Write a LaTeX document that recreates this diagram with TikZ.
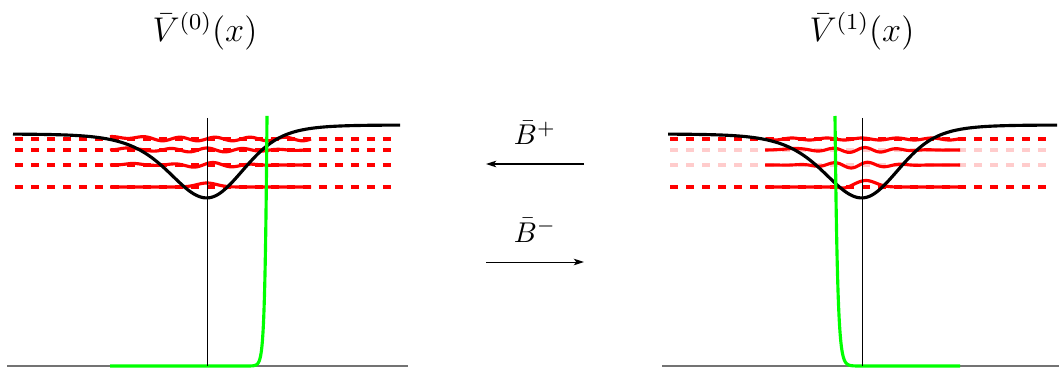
\documentclass[tikz,border=0pt]{standalone}
\usetikzlibrary{arrows.meta}
\begin{document}
\begin{tikzpicture}[x=0.35pt,y=-0.35pt,
  pot/.style={line width=1.1pt,black},
  lev/.style={line width=1.15pt,red,dash pattern=on 2.8pt off 2.8pt},
  levpale/.style={line width=1.15pt,red!20,dash pattern=on 2.8pt off 2.8pt},
  wave/.style={line width=1.1pt,red},
  zm/.style={line width=1.1pt,green},
  axisv/.style={line width=0.35pt,black},
  base/.style={line width=0.6pt,black!55},
  trans/.style={line width=0.35pt,-{Stealth[length=3.6pt,width=2.3pt,inset=0.9pt]}},
  lbl/.style={inner sep=0pt,anchor=base}]
\useasboundingbox (0,0) rectangle (1059,368);

% ---------- titles ----------
\node[lbl,font=\large] (t0) at (205,42) {$\bar V^{(0)}(x)$};
\node[lbl,font=\large] (t1) at (862,42) {$\bar V^{(1)}(x)$};

% ---------- baselines ----------
\draw[base] (7,366) -- (408,366);
\draw[base] (662,366) -- (1059,366);

% ---------- left panel ----------
\foreach \yy in {139,150,165,187} \draw[lev] (15,\yy) -- (392,\yy);
\draw[wave,domain=110:311,samples=160] plot (\x,{139-1.8*cos((\x-215)/35*360)-2.4*exp(-((\x-127)/14)*((\x-127)/14))});
\draw[wave,domain=110:311,samples=160] plot (\x,{150-2*cos((\x-207)/36*360)*exp(-((\x-207)/70)*((\x-207)/70))-2*exp(-((\x-125)/10)*((\x-125)/10))});
\draw[wave,domain=110:311,samples=160] plot (\x,{165-2.5*sin((\x-203)/40*360)*exp(-((\x-210)/40)*((\x-210)/40))-1.5*exp(-((\x-133)/10)*((\x-133)/10))});
\draw[wave,domain=110:311,samples=160] plot (\x,{187-4*exp(-((\x-207)/14)*((\x-207)/14))});
\draw[pot,domain=13:400,samples=200] plot (\x,{134-4.5*(1+tanh(max(-4,min(4,(\x-257)/25))))+64.1/(cosh((\x-207)/(\x<207?51:48)))^2});
\draw[zm] (110,366) -- (245,366) -- plot[domain=245:267,samples=60] (\x,{366-250*exp((\x-267)/2)});
\draw[axisv] (207,118) -- (207,366);

% ---------- right panel ----------
\draw[lev] (670,139) -- (1047,139);
\draw[levpale] (670,150) -- (1047,150);
\draw[levpale] (670,165) -- (1047,165);
\draw[lev] (670,187) -- (1047,187);
\draw[wave,domain=765:960,samples=160] plot (\x,{139-1*cos((\x-862)/35*360)});
\draw[wave,domain=765:960,samples=160] plot (\x,{150-2.5*cos((\x-865)/32*360)*exp(-((\x-860)/45)*((\x-860)/45))-1.5*exp(-((\x-792)/12)*((\x-792)/12))});
\draw[wave,domain=765:960,samples=160] plot (\x,{165-3*cos((\x-868)/34*360)*exp(-((\x-855)/40)*((\x-855)/40))});
\draw[wave,domain=765:960,samples=160] plot (\x,{187-6.5*exp(-((\x-866)/14)*((\x-866)/14))+1.5*exp(-((\x-845)/7)*((\x-845)/7))});
\draw[pot,domain=668:1057,samples=200] plot (\x,{134-4.5*(1+tanh(max(-4,min(4,(\x-912)/25))))+64.1/(cosh((\x-862)/(\x<862?51:48)))^2});
\draw[zm] plot[domain=835:857,samples=60] (\x,{366-250*exp(-(\x-835)/2.5)}) -- (960,366);
\draw[axisv] (862,118) -- (862,366);

% ---------- transformations ----------
\coordinate (pS) at (584,164);
\coordinate (pE) at (486,164);
\coordinate (mS) at (486,262);
\coordinate (mE) at (584,262);
\draw[trans] (pS) -- (pE);
\draw[trans] (mS) -- (mE);
\node[lbl] (bp) at (535,145) {$\bar B^{+}$};
\node[lbl] (bm) at (535,242) {$\bar B^{-}$};
\end{tikzpicture}
\end{document}
